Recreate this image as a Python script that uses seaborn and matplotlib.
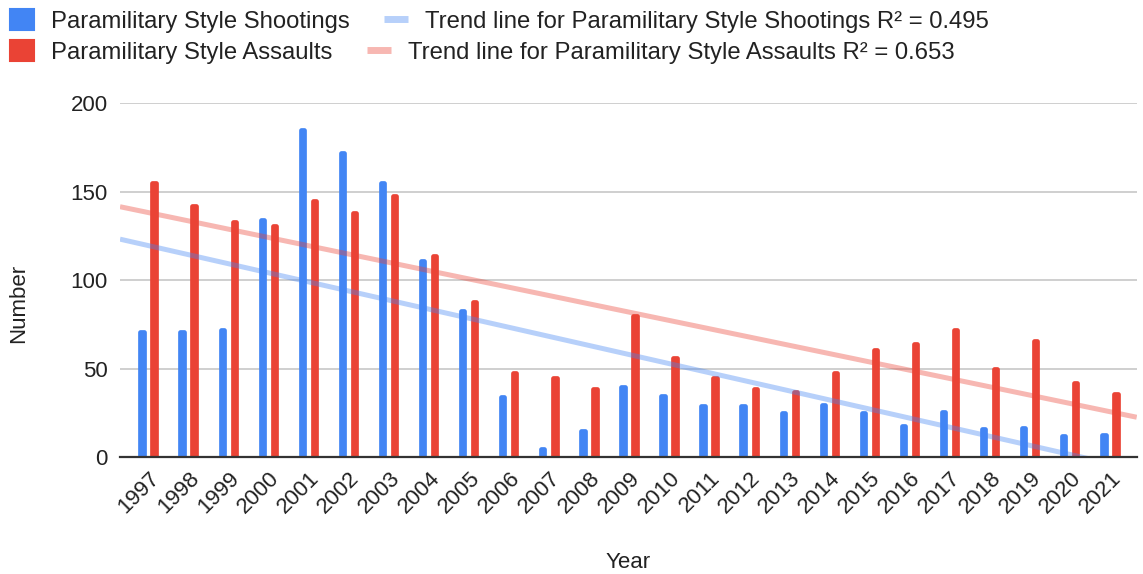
import numpy as np
import pandas as pd
import matplotlib
matplotlib.use("Agg")
import matplotlib.pyplot as plt
import matplotlib.transforms as mtransforms
from matplotlib.patches import Patch
from matplotlib.lines import Line2D
import seaborn as sns

# ---- data -------------------------------------------------------------
years = list(range(1997, 2022))
shootings = [72, 72, 73, 135, 186, 173, 156, 112, 84, 35, 6, 16, 41, 36,
             30, 30, 26, 31, 26, 19, 27, 17, 18, 13, 14]
assaults = [156, 143, 134, 132, 146, 139, 149, 115, 89, 49, 46, 40, 81, 57,
            46, 40, 38, 49, 62, 65, 73, 51, 67, 43, 37]

series_names = ["Paramilitary Style Shootings", "Paramilitary Style Assaults"]
trend_labels = ["Trend line for Paramilitary Style Shootings R\u00b2 = 0.495",
                "Trend line for Paramilitary Style Assaults R\u00b2 = 0.653"]
y_ticks = [0, 50, 100, 150, 200]

BLUE = "#4285F4"
RED = "#EA4335"
TEXT = "#222222"
FS = 16
LEG_FS = 17.2
EDGE_PT = 3.4  # outline width that gives the bars rounded ends

df = pd.DataFrame({
    "Year": [str(y) for y in years] * 2,
    "Value": shootings + assaults,
    "Series": [series_names[0]] * len(years) + [series_names[1]] * len(years),
})

# ---- figure -----------------------------------------------------------
sns.set_theme(style="white")
plt.rcParams["font.family"] = ["Liberation Sans", "DejaVu Sans"]

fig = plt.figure(figsize=(11.43, 5.74), dpi=100)
ax = fig.add_axes([0.105, 0.2038, 0.8895, 0.6167])

sns.barplot(data=df, x="Year", y="Value", hue="Series",
            palette=[BLUE, RED], width=0.6, gap=0.72,
            saturation=1, legend=False, ax=ax, zorder=2)

ax.set_xlim(-0.7, 24.67)
ax.set_ylim(0, 200)

# rounded bar ends: a round-joined outline, with the bar body trimmed so the
# outer edge of the cap lands on the value
ax_h_px = ax.get_position().height * fig.get_figheight() * fig.dpi
half_edge_units = (EDGE_PT / 72 * fig.dpi / 2) * 200 / ax_h_px
for bar in ax.patches:
    bar.set_edgecolor(bar.get_facecolor())
    bar.set_linewidth(EDGE_PT)
    bar.set_joinstyle("round")
    h = bar.get_height()
    bar.set_height(max(h - half_edge_units, 0.01))

# linear trend lines across the full axis width
idx = np.arange(len(years))
for vals, col in [(shootings, BLUE), (assaults, RED)]:
    sns.regplot(x=idx, y=np.array(vals, dtype=float), scatter=False,
                ci=None, truncate=False, ax=ax,
                line_kws=dict(color=col, alpha=0.38, lw=3.6,
                              solid_capstyle="butt", zorder=3))
ax.set_xlim(-0.7, 24.67)
ax.set_ylim(0, 200)

# axes styling
ax.set_yticks(y_ticks)
ax.grid(axis="y", color="#cccccc", lw=1.3, zorder=0)
ax.grid(axis="x", visible=False)
for s in ["top", "right", "left"]:
    ax.spines[s].set_visible(False)
ax.spines["bottom"].set_color("#333333")
ax.spines["bottom"].set_linewidth(1.6)
ax.spines["bottom"].set_zorder(5)
ax.tick_params(axis="y", length=0, pad=9, labelsize=FS, labelcolor=TEXT)
ax.tick_params(axis="x", length=0, pad=13, labelsize=FS, labelcolor=TEXT)
shift = mtransforms.ScaledTranslation(8 / 100, 0, fig.dpi_scale_trans)
for lab in ax.get_xticklabels():
    lab.set_rotation(45)
    lab.set_ha("right")
    lab.set_va("center")
    lab.set_rotation_mode("anchor")
    lab.set_transform(lab.get_transform() + shift)

ax.set_xlabel("Year", fontsize=FS, color=TEXT, va="center")
ax.xaxis.set_label_coords(0.5, -0.297)
ax.set_ylabel("Number", fontsize=FS, color=TEXT, va="center")
ax.yaxis.set_label_coords(-0.1, 0.435)

# ---- legend: two left-aligned rows -----------------------------------
leg_kw = dict(ncol=2, frameon=False, fontsize=LEG_FS, handlelength=1.0,
              handleheight=1.0, handletextpad=0.7, columnspacing=1.45,
              borderaxespad=0, borderpad=0, labelcolor=TEXT)
row1 = [Patch(facecolor=BLUE, edgecolor=BLUE, joinstyle="round", lw=1.5),
        Line2D([], [], color=BLUE, alpha=0.38, lw=5, solid_capstyle="butt")]
row2 = [Patch(facecolor=RED, edgecolor=RED, joinstyle="round", lw=1.5),
        Line2D([], [], color=RED, alpha=0.38, lw=5, solid_capstyle="butt")]
fig.legend(row1, [series_names[0], trend_labels[0]],
           loc="center left", bbox_to_anchor=(0.009, 1 - 21 / 574), **leg_kw)
fig.legend(row2, [series_names[1], trend_labels[1]],
           loc="center left", bbox_to_anchor=(0.009, 1 - 52 / 574), **leg_kw)

fig.savefig("out.png", dpi=100)
